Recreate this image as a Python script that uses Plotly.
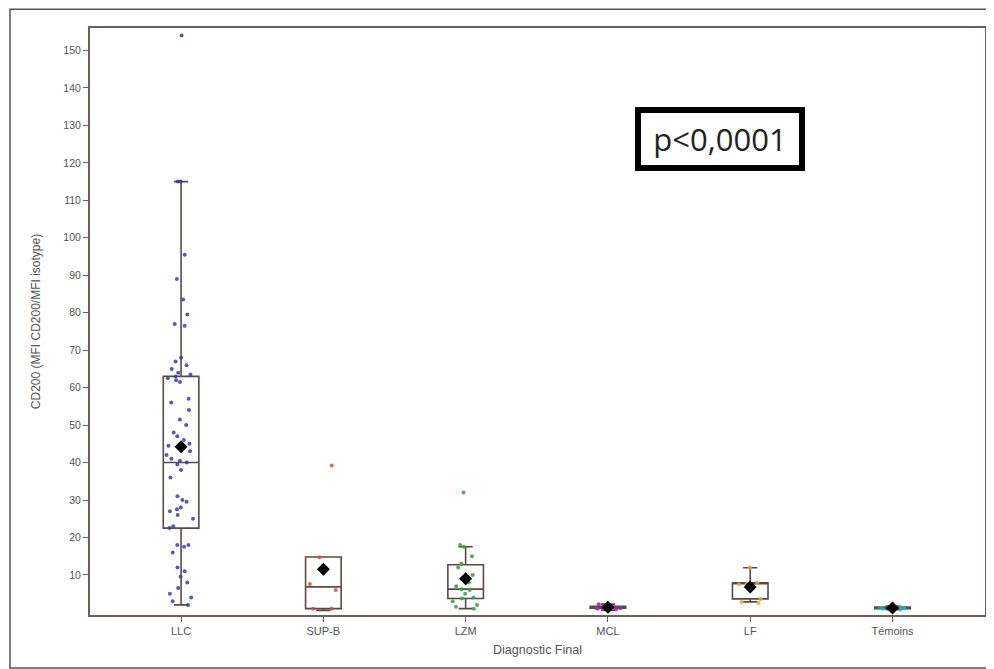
import plotly.graph_objects as go

categories = ["LLC", "SUP-B", "LZM", "MCL", "LF", "Témoins"]
colors = ["#3c3caa", "#e04848", "#3c9c3c", "#a028a8", "#f0a030", "#20b4b8"]

llc = [154, 115, 115, 95.5, 89, 83.5, 79.5, 77, 76.5, 68, 67, 66, 65, 64, 63.5, 63,
       62.5, 62, 61.5, 57, 56, 54, 51.5, 50, 48, 47, 46, 45, 44.5, 43, 42, 41, 40.5,
       40, 39.5, 38, 36, 31, 30, 29.5, 28, 27.5, 27, 26, 25, 23, 22.5, 18, 18, 17.5,
       16, 12, 11, 9.5, 8, 6.5, 5, 4, 3, 2]
supb = [39.2, 14.7, 7.6, 6, 1, 1]
lzm = [32, 18, 17.5, 15, 13, 12, 10, 9, 8, 7, 6.2, 6, 5, 4, 3.7, 3, 2, 1.5, 1]
mcl = [0.8, 1.0, 1.1, 1.2, 1.3, 1.4, 1.5, 1.6, 2.0, 2.2]
lf = [12, 8, 7.8, 7.5, 3.6, 2.8, 2.5]
temoins = [0.8, 1.0, 1.1, 1.2, 1.3, 1.4, 1.6]
groups = [llc, supb, lzm, mcl, lf, temoins]

# Box statistics
q1 = [22.5, 1.0, 3.7, 1.1, 3.6, 1.0]
median = [40, 6.8, 6.2, 1.3, 7.8, 1.2]
q3 = [63, 14.8, 12.7, 1.6, 7.9, 1.4]
lowerfence = [2, 0.5, 1, 0.6, 2.8, 0.7]
upperfence = [115, 14.8, 17.5, 2.2, 11.9, 1.7]
means = [44.2, 11.5, 9.0, 1.4, 6.8, 1.2]

yticks = list(range(10, 151, 10))
frame = "#6e5f5a"
textcol = "#555555"

fig = go.Figure()

# Boxes from summary stats
fig.add_trace(go.Box(
    x=categories, q1=q1, median=median, q3=q3,
    lowerfence=lowerfence, upperfence=upperfence,
    boxpoints=False, width=0.25, whiskerwidth=0.4,
    fillcolor="rgba(255,255,255,0)",
    line=dict(color="#5a4a46", width=1.6),
    showlegend=False, hoverinfo="skip",
))

# Jittered points
for cat, vals, col in zip(categories, groups, colors):
    fig.add_trace(go.Box(
        x=[cat] * len(vals), y=vals,
        boxpoints="all", jitter=0.9, pointpos=0, width=0.25,
        fillcolor="rgba(0,0,0,0)", line=dict(color="rgba(0,0,0,0)", width=0),
        marker=dict(color=col, size=4, opacity=0.85),
        showlegend=False,
    ))

# Means
fig.add_trace(go.Scatter(
    x=categories, y=means, mode="markers",
    marker=dict(symbol="diamond", size=10, color="black"),
    showlegend=False,
))

fig.add_annotation(
    x=3.785, y=126.5, xref="x", yref="y",
    text="p<0,0001", showarrow=False,
    font=dict(family="Open Sans, Liberation Sans, sans-serif", size=31, color="#222222"),
    bgcolor="white", bordercolor="black", borderwidth=6, borderpad=3,
    width=152, height=46,
)

# Outer frame
fig.add_shape(type="rect", xref="paper", yref="paper",
              x0=-0.0894, x1=1.009, y0=-0.0903, y1=1.032,
              line=dict(color="#555555", width=1.5), layer="below")

fig.update_layout(
    width=986, height=661,
    margin=dict(l=82, r=9, t=20, b=54, autoexpand=False),
    plot_bgcolor="white", paper_bgcolor="white",
    boxmode="overlay",
    font=dict(family="Liberation Sans, Arial, sans-serif", size=11, color=textcol),
    xaxis=dict(
        type="category", categoryorder="array", categoryarray=categories,
        range=[-0.64, 5.65], showgrid=False, automargin=False,
        showline=True, mirror=True, linecolor=frame, linewidth=2,
        ticks="outside", ticklen=5, tickcolor=frame,
        title=dict(text="Diagnostic Final", font=dict(size=12.5, color=textcol), standoff=9),
        tickfont=dict(size=11, color=textcol),
    ),
    yaxis=dict(
        range=[-0.7, 156], tickvals=yticks, showgrid=False, zeroline=False,
        automargin=False,
        showline=True, mirror=True, linecolor=frame, linewidth=2,
        ticks="outside", ticklen=5, tickcolor=frame,
        title=dict(text="CD200 (MFI CD200/MFI isotype)", font=dict(size=12, color=textcol), standoff=20),
        tickfont=dict(size=10.5, color=textcol),
    ),
)

fig.write_html("out.html")
